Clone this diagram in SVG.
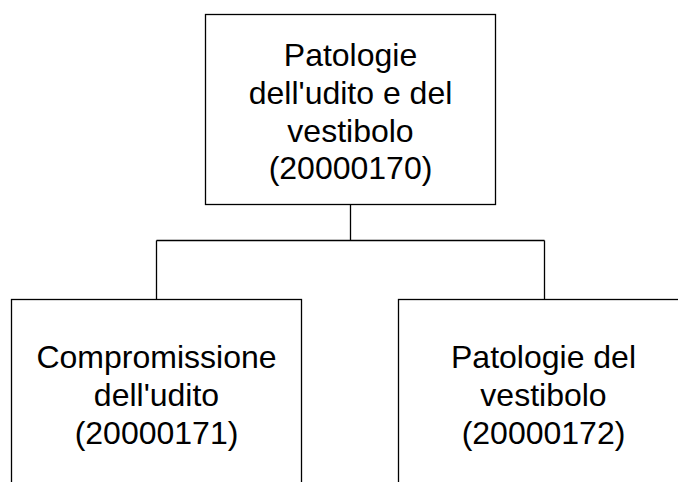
<svg xmlns="http://www.w3.org/2000/svg" width="678" height="482" viewBox="0 0 678 482">
<style>
.box{fill:#fff;stroke:#000;stroke-width:1.3}
.t{font-family:"Liberation Sans",Arial,sans-serif;font-size:32px;fill:#000;text-anchor:middle}
.c{fill:none;stroke:#000;stroke-width:1.3}
</style>
<rect width="678" height="482" fill="#fff"/>
<g id="connectors">
<path class="c" d="M350.5 204.5V240.5M156.5 240.5H544.5M156.5 240.5V299.5M544.5 240.5V299.5"/>
</g>
<g id="n20000170">
<rect class="box" x="205.5" y="14.5" width="290" height="190"/>
<text class="t" x="350.5" y="66">Patologie</text>
<text class="t" x="350.5" y="104">dell'udito e del</text>
<text class="t" x="350.5" y="141.5">vestibolo</text>
<text class="t" x="350.5" y="179">(20000170)</text>
</g>
<g id="n20000171">
<rect class="box" x="11.5" y="299.5" width="290" height="190"/>
<text class="t" x="156.5" y="368">Compromissione</text>
<text class="t" x="156.5" y="406">dell'udito</text>
<text class="t" x="156.5" y="444">(20000171)</text>
</g>
<g id="n20000172">
<rect class="box" x="398.5" y="299.5" width="290" height="190"/>
<text class="t" x="543.5" y="368">Patologie del</text>
<text class="t" x="543.5" y="406">vestibolo</text>
<text class="t" x="543.5" y="444">(20000172)</text>
</g>
</svg>
